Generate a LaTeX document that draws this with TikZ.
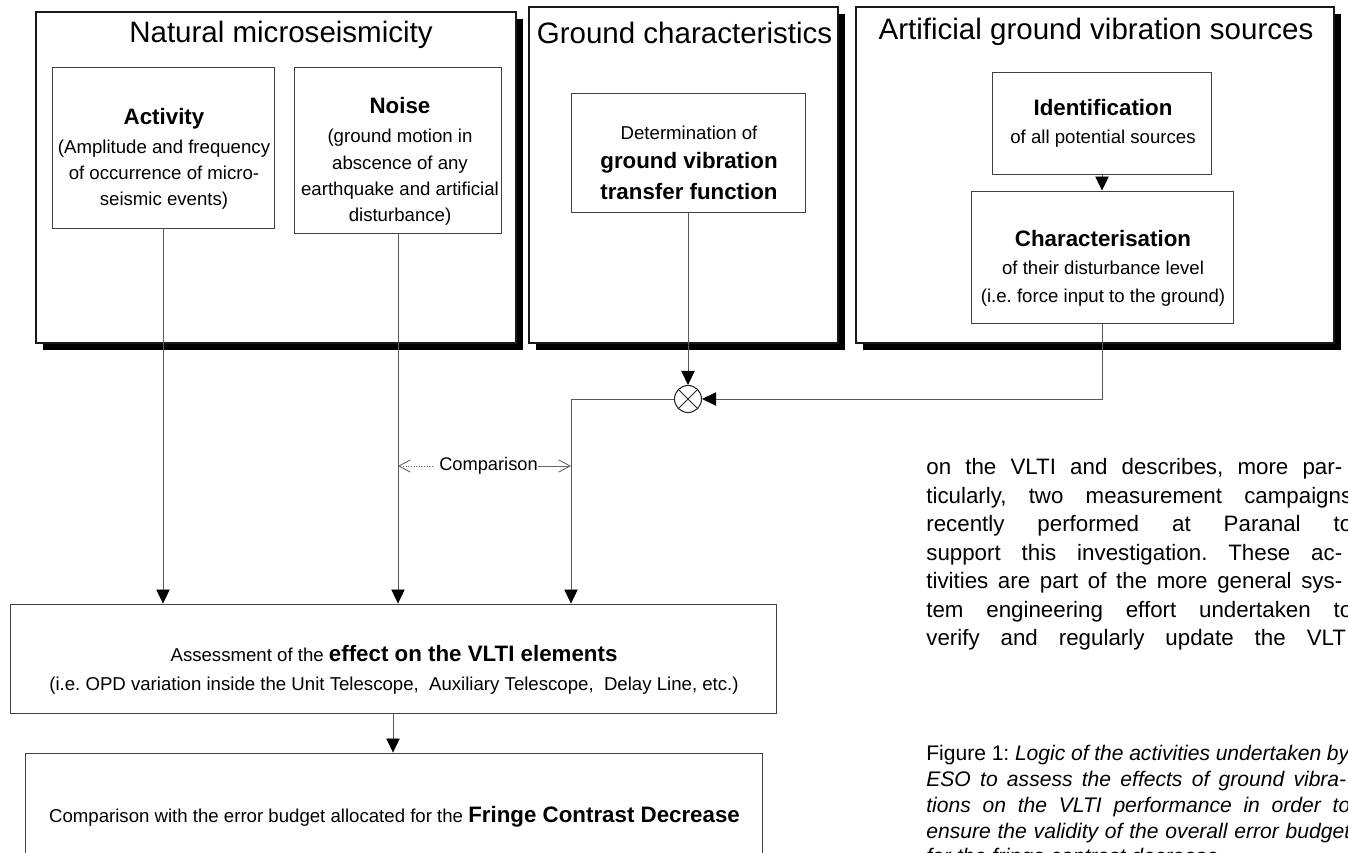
\documentclass[tikz,border=0pt]{standalone}
\usepackage{fontspec}
\setmainfont{Liberation Sans}
\usetikzlibrary{arrows.meta,shadows}
\frenchspacing
\newcommand\bhead[1]{{\fontsize{12.7}{15}\selectfont\bfseries #1}}

\begin{document}
\begin{tikzpicture}[
  sz/.style 2 args={minimum width=#1*0.02cm, minimum height=#2*0.02cm},
  grp/.style={draw=black!90, fill=white, line width=0.6pt, inner sep=0pt,
              drop shadow={shadow xshift=0.14cm, shadow yshift=-0.14cm, fill=black, opacity=1}},
  bx/.style={draw=black!75, fill=white, line width=0.5pt, inner sep=0pt},
  ttl/.style={font=\fontsize{16.8}{20}\selectfont, inner sep=0pt},
  txt/.style={align=center, font=\fontsize{10.6}{15}\selectfont, inner sep=0pt},
  arr/.style={draw=black!65, line width=0.55pt, -{Triangle[length=8pt,width=7.6pt,color=black]}},
  opn/.style={draw=black!60, line width=0.5pt, -{Straight Barb[length=6.5pt,width=7pt]}},
  body/.style={anchor=west, inner sep=0pt, text height=9pt, text depth=2.7pt, font=\fontsize{12.7}{16}\selectfont},
  capt/.style={anchor=west, inner sep=0pt, text height=8.6pt, text depth=2.5pt, font=\fontsize{12}{15}\selectfont}
]
% ---- reusable shorthand ----
\def\px{0.02} % one pixel of the page

\clip (0,0) rectangle (\px*1348,-\px*853);

% ===== NATURAL MICROSEISMICITY =====
\node[grp, sz={480}{331}] (nat) at (\px*276,-\px*177.5) {};
\node[ttl] (natT) at (\px*281,-\px*35) {Natural microseismicity};
\node[bx, sz={222}{161}] (act) at (\px*163,-\px*147.5) {};
\node[txt] (actT) at (\px*164,-\px*159) {\bhead{Activity}\\[1.4pt] (Amplitude and frequency\\ of occurrence of micro-\\ seismic events)};
\node[bx, sz={207}{166}] (noi) at (\px*398,-\px*150) {};
\node[txt] (noiT) at (\px*400,-\px*161.5) {\bhead{Noise}\\[1.6pt] (ground motion in\\ abscence of any\\ earthquake and artificial\\ disturbance)};

% ===== GROUND CHARACTERISTICS =====
\node[grp, sz={309}{336}] (grd) at (\px*683.5,-\px*175) {};
\node[ttl] (grdT) at (\px*684.5,-\px*33) {Ground characteristics};
\node[bx, sz={234}{119}] (gvt) at (\px*688,-\px*152.5) {};
\node[txt] (gvtT) at (\px*689,-\px*163) {Determination of\\[1.4pt] \bhead{ground vibration}\\[2.4pt] \bhead{transfer function}};

% ===== ARTIFICIAL SOURCES =====
\node[grp, sz={478}{336}] (art) at (\px*1095,-\px*175) {};
\node[ttl] (artT) at (\px*1096,-\px*32) {Artificial ground vibration sources};
\node[bx, sz={219}{102}] (idf) at (\px*1102,-\px*123) {};
\node[txt] (idfT) at (\px*1103,-\px*123) {\bhead{Identification}\\[0.9pt] of all potential sources};
\node[bx, sz={262}{132}] (chr) at (\px*1102,-\px*257) {};
\node[txt] (chrT) at (\px*1103,-\px*268) {\bhead{Characterisation}\\[0.9pt] of their disturbance level\\[0.9pt] (i.e. force input to the ground)};

% arrow identification -> characterisation
\draw[arr] (idf.south) -- (idf.south |- chr.north);

% ===== PRODUCT (x) =====
\node[draw=black!85, line width=0.6pt, circle, minimum size=0.54cm, inner sep=0pt] (mix) at (\px*688,-\px*399) {};
\draw[black!85, line width=0.5pt] (mix.north east) -- (mix.south west) (mix.north west) -- (mix.south east);
\draw[arr] (gvt.south) -- (mix.north);
\draw[arr] (chr.south) |- (mix.east);

% ===== ASSESSMENT + ERROR BUDGET =====
\node[bx, sz={766}{109}] (ass) at (\px*393,-\px*658.5) {};
\node[txt] (assT) at (\px*394,-\px*669.5) {Assessment of the \bhead{effect on the VLTI elements}\\[1.4pt] (i.e. OPD variation inside the Unit Telescope,~ Auxiliary Telescope,~ Delay Line, etc.)};
\node[bx, sz={737}{128}] (cmp) at (\px*393.5,-\px*817) {};
\node[txt] (cmpT) at (\px*394.5,-\px*817) {Comparison with the error budget allocated for the \bhead{Fringe Contrast Decrease}};

% arrows down into the assessment
\coordinate (bend) at (\px*571,-\px*399);
\draw[arr] (act.south) -- (act.south |- ass.north);
\draw[arr] (noi.south) -- (noi.south |- ass.north);
\draw[arr] (mix.west) -- (bend) -- (bend |- ass.north);
\draw[arr] (ass.south) -- (ass.south |- cmp.north);

% comparison of the two signals
\node[font=\fontsize{10.4}{12}\selectfont, inner sep=0pt] (cmpL) at (\px*488.5,-\px*466) {Comparison};
\draw[opn, densely dotted] ([xshift=-0.12cm]cmpL.west) -- (noi.south |- cmpL.west);
\draw[opn] (cmpL.east) -- (bend |- cmpL.east);

% ===== RUNNING TEXT =====
\node[body] (b1) at (\px*926,-\px*469)   {\makebox[8.32cm][s]{on the VLTI and describes, more par-}};
\node[body] (b2) at (\px*926,-\px*497.5) {\makebox[8.52cm][s]{ticularly, two measurement campaigns}};
\node[body] (b3) at (\px*926,-\px*526)   {\makebox[8.52cm][s]{recently performed at Paranal to}};
\node[body] (b4) at (\px*926,-\px*554.5) {\makebox[8.32cm][s]{support this investigation. These ac-}};
\node[body] (b5) at (\px*926,-\px*583)   {\makebox[8.32cm][s]{tivities are part of the more general sys-}};
\node[body] (b6) at (\px*926,-\px*611.5) {\makebox[8.52cm][s]{tem engineering effort undertaken to}};
\node[body] (b7) at (\px*926,-\px*640)   {\makebox[8.52cm][s]{verify and regularly update the VLTI}};

% ===== CAPTION =====
\node[capt] (c1) at (\px*926,-\px*755) {\makebox[8.48cm][s]{Figure 1: \textit{Logic of the activities undertaken by}}};
\node[capt] (c2) at (\px*926,-\px*781) {\makebox[8.40cm][s]{\itshape ESO to assess the effects of ground vibra-}};
\node[capt] (c3) at (\px*926,-\px*807) {\makebox[8.48cm][s]{\itshape tions on the VLTI performance in order to}};
\node[capt] (c4) at (\px*926,-\px*833) {\makebox[8.48cm][s]{\itshape ensure the validity of the overall error budget}};
\node[capt] (c5) at (\px*926,-\px*858) {\itshape for the fringe contrast decrease.};

\end{tikzpicture}
\end{document}
